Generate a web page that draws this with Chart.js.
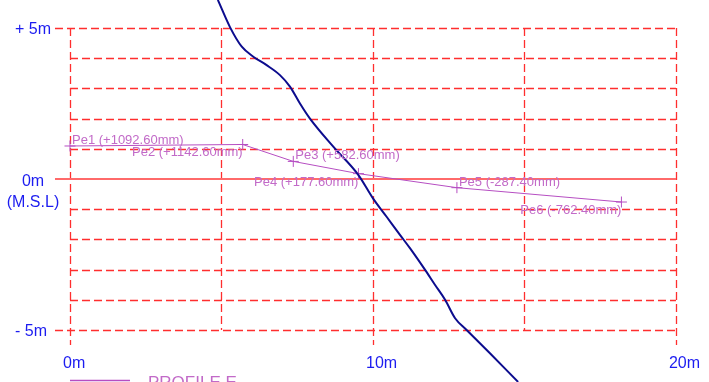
<!DOCTYPE html>
<html lang="en">
<head>
<meta charset="UTF-8">
<title>Profile E</title>
<style>
    body { margin: 0; padding: 0; background: #ffffff; overflow: hidden; }
    .wrap { position: relative; width: 709px; height: 382px; }
</style>
<script src="https://cdn.jsdelivr.net/npm/chart.js"></script>
</head>
<body>
<div class="wrap"><canvas id="profileChart"></canvas></div>
<script>
    // Ground line (blue), chainage and level in metres
    const groundX = [4.88, 5.28, 5.67, 6.05, 6.49, 6.93, 7.26, 7.59, 7.92, 8.69, 9.52, 10.0, 10.45, 10.89, 11.22, 11.72, 12.05, 12.38, 12.71, 13.09, 13.86, 14.79];
    const groundY = [5.93, 5.03, 4.38, 4.05, 3.77, 3.44, 3.06, 2.5, 2.0, 1.07, 0.13, -0.64, -1.25, -1.85, -2.29, -3.01, -3.51, -4.0, -4.61, -5.0, -5.77, -6.72];

    // Settlement points
    const peNames = ['Pe1', 'Pe2', 'Pe3', 'Pe4', 'Pe5', 'Pe6'];
    const peX = [0, 5.70, 7.37, 9.52, 12.77, 18.2];
    const peMm = [1092.6, 1142.6, 582.6, 177.6, -287.4, -762.4];

    // Grid and tick labels
    const gridX = [0, 5, 10, 15, 20];
    const gridY = [-5, -4, -3, -2, -1, 0, 1, 2, 3, 4, 5];
    const xTicks = [0, 10, 20];
    const xTickLabels = ['0m', '10m', '20m'];
    const yTicks = [5, 0, -5];
    const yTickLabels = [['+ 5m'], ['0m', '(M.S.L)'], ['- 5m']];
    const legendLabel = 'PROFILE E';

    const gridRed = '#ff2e2e';
    const labelBlue = '#1c1cf0';
    const pePurple = '#b64ec2';
    const peText = '#c26ac8';
    const font = '"Liberation Sans", Arial, sans-serif';

    const groundData = groundX.map((v, i) => ({ x: v, y: groundY[i] }));
    const peData = peX.map((v, i) => ({ x: v, y: peMm[i] / 1000 }));

    function fmtMm(v) {
        return (v > 0 ? '+' : '') + v.toFixed(2) + 'mm';
    }

    // draws the dashed grid box, axis texts, point labels and legend
    const profilePlugin = {
        id: 'profilePlugin',
        beforeDatasetsDraw(chart) {
            const { ctx, scales: { x, y } } = chart;
            ctx.save();
            ctx.lineWidth = 1.3;
            ctx.strokeStyle = gridRed;
            ctx.setLineDash([8, 4]);
            const top = y.getPixelForValue(5);
            const bottom = y.getPixelForValue(-5);
            const left = x.getPixelForValue(0);
            const right = x.getPixelForValue(20);
            gridY.forEach(v => {
                if (v === 0) return;
                const py = Math.round(y.getPixelForValue(v)) + 0.5;
                const x0 = yTicks.includes(v) ? left - 15 : left;
                ctx.beginPath();
                ctx.moveTo(x0, py);
                ctx.lineTo(right, py);
                ctx.stroke();
            });
            gridX.forEach(v => {
                const px = Math.round(x.getPixelForValue(v)) + 0.5;
                const y1 = xTicks.includes(v) ? bottom + 15 : bottom;
                ctx.beginPath();
                ctx.moveTo(px, top);
                ctx.lineTo(px, y1);
                ctx.stroke();
            });
            // mean sea level line
            ctx.setLineDash([]);
            ctx.strokeStyle = '#ff6a6a';
            ctx.lineWidth = 2;
            const p0 = y.getPixelForValue(0);
            ctx.beginPath();
            ctx.moveTo(left - 15, p0);
            ctx.lineTo(right, p0);
            ctx.stroke();
            ctx.restore();
        },
        afterDatasetsDraw(chart) {
            const { ctx, scales: { x, y } } = chart;
            const left = x.getPixelForValue(0);
            ctx.save();
            // y axis labels
            ctx.fillStyle = labelBlue;
            ctx.font = '16px ' + font;
            ctx.textBaseline = 'middle';
            yTicks.forEach((v, i) => {
                const py = y.getPixelForValue(v);
                const lines = yTickLabels[i];
                if (lines.length === 1) {
                    ctx.textAlign = 'left';
                    ctx.fillText(lines[0], left - 55, py + 2);
                } else {
                    ctx.textAlign = 'center';
                    lines.forEach((t, j) => ctx.fillText(t, left - 37, py + 3 + j * 21));
                }
            });
            // x axis labels
            ctx.textAlign = 'left';
            const xLabY = y.getPixelForValue(-5) + 34;
            xTicks.forEach((v, i) => {
                ctx.fillText(xTickLabels[i], x.getPixelForValue(v) - 7, xLabY);
            });
            // settlement point labels
            ctx.fillStyle = peText;
            ctx.font = '13px ' + font;
            ctx.textBaseline = 'alphabetic';
            const meta = chart.getDatasetMeta(1);
            meta.data.forEach((pt, i) => {
                const txt = peNames[i] + ' (' + fmtMm(peMm[i]) + ')';
                if (i % 2 === 0) {
                    ctx.textAlign = 'left';
                    ctx.fillText(txt, pt.x + 2, pt.y - 2);
                } else {
                    ctx.textAlign = 'right';
                    ctx.fillText(txt, pt.x, pt.y + 12);
                }
            });
            // legend
            ctx.strokeStyle = pePurple;
            ctx.lineWidth = 1.5;
            ctx.beginPath();
            ctx.moveTo(left, 380.5);
            ctx.lineTo(left + 60, 380.5);
            ctx.stroke();
            ctx.font = '17px ' + font;
            ctx.textAlign = 'left';
            ctx.fillText(legendLabel, left + 78, 388);
            ctx.restore();
        }
    };

    const ctx = document.getElementById('profileChart').getContext('2d');
    const profileChart = new Chart(ctx, {
        type: 'scatter',
        data: {
            datasets: [{
                label: 'Ground',
                data: groundData,
                showLine: true,
                borderColor: '#0c0c8e',
                borderWidth: 2,
                pointRadius: 0,
                tension: 0.4,
                cubicInterpolationMode: 'monotone'
            }, {
                label: legendLabel,
                data: peData,
                showLine: true,
                borderColor: pePurple,
                borderWidth: 1,
                pointStyle: 'cross',
                pointRadius: 5.5,
                pointBorderColor: pePurple,
                pointBorderWidth: 1,
                tension: 0
            }]
        },
        options: {
            responsive: true,
            maintainAspectRatio: false,
            animation: false,
            layout: { padding: 0, autoPadding: false },
            scales: {
                x: { type: 'linear', min: -2.31, max: 21.09, display: false },
                y: { type: 'linear', min: -6.722, max: 5.927, display: false }
            },
            plugins: {
                legend: { display: false },
                tooltip: { enabled: false }
            }
        },
        plugins: [profilePlugin]
    });
</script>
</body>
</html>
